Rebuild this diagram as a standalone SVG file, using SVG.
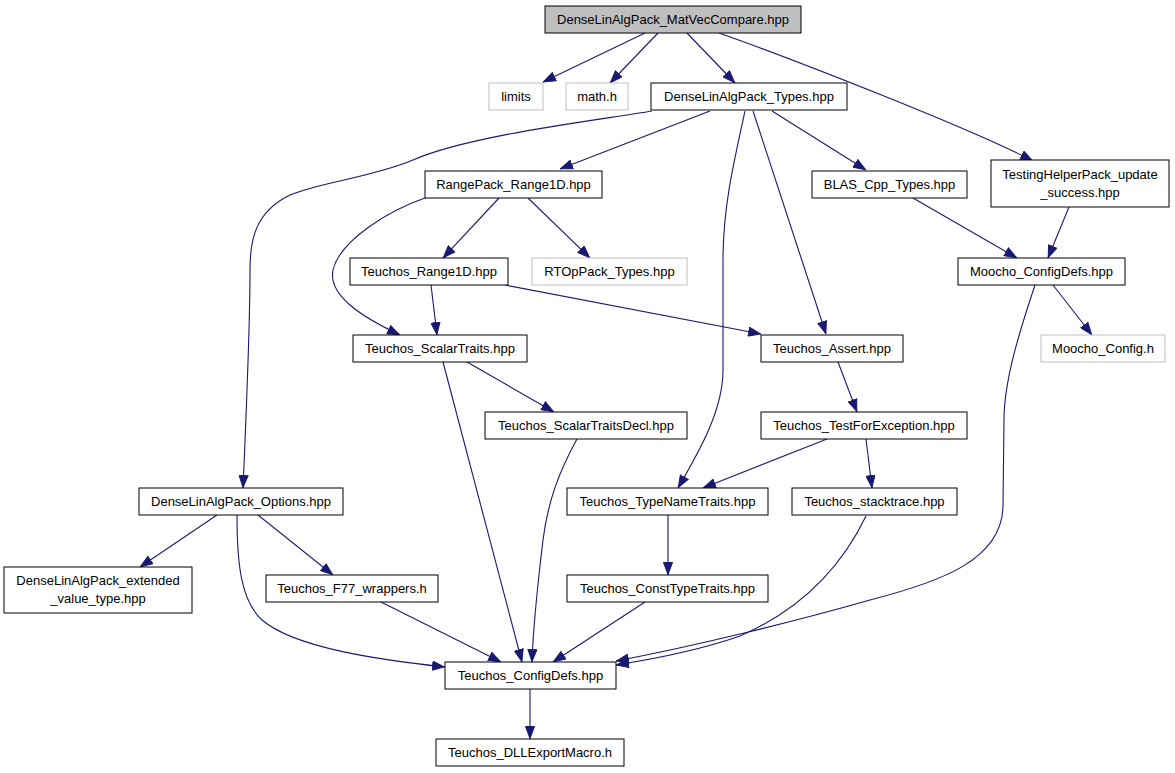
<svg xmlns="http://www.w3.org/2000/svg" width="1175" height="773" viewBox="0 0 1175 773">
<style>
.n rect{fill:#ffffff;stroke:#000000;stroke-width:1}
.n.g rect{stroke:#bfbfbf}
.n.root rect{fill:#bfbfbf}
.n text{font-family:"Liberation Sans",Helvetica,Arial,sans-serif;font-size:13px;fill:#000000;text-anchor:middle}
#edges path{fill:none;stroke:#191970;stroke-width:1.1;marker-end:url(#arr)}
</style>
<defs>
<marker id="arr" viewBox="0 0 13 10" refX="13" refY="5" markerWidth="13" markerHeight="10" markerUnits="userSpaceOnUse" orient="auto">
<path d="M0.5,0.5 L12.5,5 L0.5,9.5 Z" fill="#191970" stroke="#191970" stroke-width="1"/>
</marker>
</defs>
<rect width="1175" height="773" fill="#ffffff"/>
<g id="edges">
<path d="M645,33 L543,82"/>
<path d="M658,33 L610,83"/>
<path d="M687,33 L735,83"/>
<path d="M719,33 C790,58 970,128 1033,161"/>
<path d="M710,111 L560,169"/>
<path d="M772,111 L866,170"/>
<path d="M753,111 L826,334"/>
<path d="M745,111 C732,170 723,210 723,260 L723,370 C723,410 700,450 678,488"/>
<path d="M652,111 C600,120 470,135 413,160 C370,178 320,182 290,195 C255,212 250,240 250,270 C250,330 246,420 243,488"/>
<path d="M1069,207 L1048,258"/>
<path d="M913,198 L1017,258"/>
<path d="M1053,285 L1092,335"/>
<path d="M1035,285 C1020,330 1004,380 1004,420 L1003,505 C1003,560 940,582 870,600 C800,620 700,645 616,661"/>
<path d="M499,198 L443,258"/>
<path d="M528,198 L590,258"/>
<path d="M425,198 C390,210 340,240 333,270 C328,295 360,316 400,335"/>
<path d="M431,285 L437,335"/>
<path d="M505,285 L761,334"/>
<path d="M467,362 L554,412"/>
<path d="M443,362 L522,662"/>
<path d="M577,439 C560,470 548,500 543,540 C537,590 533,630 532,662"/>
<path d="M838,362 L857,412"/>
<path d="M827,439 L703,488"/>
<path d="M866,439 L872,488"/>
<path d="M668,515 L668,575"/>
<path d="M645,602 L553,662"/>
<path d="M866,516 C840,570 800,610 740,636 C700,650 660,658 616,665"/>
<path d="M381,602 L501,662"/>
<path d="M217,515 L140,567"/>
<path d="M258,515 L333,575"/>
<path d="M237,515 C237,560 240,600 262,620 C295,648 380,660 445,667"/>
<path d="M530,689 L530,739"/>
</g>
<g id="n0" class="n root"><rect x="545" y="6" width="256" height="27"/><text x="673" y="24">DenseLinAlgPack_MatVecCompare.hpp</text></g>
<g id="n1" class="n g"><rect x="489" y="83" width="54" height="27"/><text x="516" y="101">limits</text></g>
<g id="n2" class="n g"><rect x="566" y="83" width="62" height="27"/><text x="597" y="101">math.h</text></g>
<g id="n3" class="n"><rect x="651" y="83" width="196" height="27"/><text x="749" y="101">DenseLinAlgPack_Types.hpp</text></g>
<g id="n4" class="n"><rect x="991" y="160" width="178" height="47"/><text x="1080" y="179">TestingHelperPack_update</text><text x="1080" y="197">_success.hpp</text></g>
<g id="n5" class="n"><rect x="425" y="171" width="177" height="27"/><text x="513.5" y="189">RangePack_Range1D.hpp</text></g>
<g id="n6" class="n"><rect x="812" y="171" width="155" height="27"/><text x="889.5" y="189">BLAS_Cpp_Types.hpp</text></g>
<g id="n7" class="n"><rect x="350" y="258" width="158" height="27"/><text x="429" y="276">Teuchos_Range1D.hpp</text></g>
<g id="n8" class="n g"><rect x="532" y="258" width="155" height="27"/><text x="609.5" y="276">RTOpPack_Types.hpp</text></g>
<g id="n9" class="n"><rect x="958" y="258" width="167" height="27"/><text x="1041.5" y="276">Moocho_ConfigDefs.hpp</text></g>
<g id="n10" class="n"><rect x="353" y="335" width="174" height="27"/><text x="440" y="353">Teuchos_ScalarTraits.hpp</text></g>
<g id="n11" class="n"><rect x="761" y="335" width="142" height="27"/><text x="832" y="353">Teuchos_Assert.hpp</text></g>
<g id="n12" class="n g"><rect x="1041" y="335" width="124" height="27"/><text x="1103" y="353">Moocho_Config.h</text></g>
<g id="n13" class="n"><rect x="485" y="412" width="202" height="27"/><text x="586" y="430">Teuchos_ScalarTraitsDecl.hpp</text></g>
<g id="n14" class="n"><rect x="761" y="412" width="206" height="27"/><text x="864" y="430">Teuchos_TestForException.hpp</text></g>
<g id="n15" class="n"><rect x="139" y="488" width="204" height="27"/><text x="241" y="506">DenseLinAlgPack_Options.hpp</text></g>
<g id="n16" class="n"><rect x="567" y="488" width="201" height="27"/><text x="667.5" y="506">Teuchos_TypeNameTraits.hpp</text></g>
<g id="n17" class="n"><rect x="792" y="488" width="165" height="27"/><text x="874.5" y="506">Teuchos_stacktrace.hpp</text></g>
<g id="n18" class="n"><rect x="4" y="567" width="188" height="46"/><text x="98" y="585">DenseLinAlgPack_extended</text><text x="98" y="603">_value_type.hpp</text></g>
<g id="n19" class="n"><rect x="266" y="575" width="172" height="27"/><text x="352" y="593">Teuchos_F77_wrappers.h</text></g>
<g id="n20" class="n"><rect x="567" y="575" width="201" height="27"/><text x="667.5" y="593">Teuchos_ConstTypeTraits.hpp</text></g>
<g id="n21" class="n"><rect x="445" y="662" width="171" height="27"/><text x="530.5" y="680">Teuchos_ConfigDefs.hpp</text></g>
<g id="n22" class="n"><rect x="436" y="739" width="188" height="27"/><text x="530" y="757">Teuchos_DLLExportMacro.h</text></g>
</svg>
